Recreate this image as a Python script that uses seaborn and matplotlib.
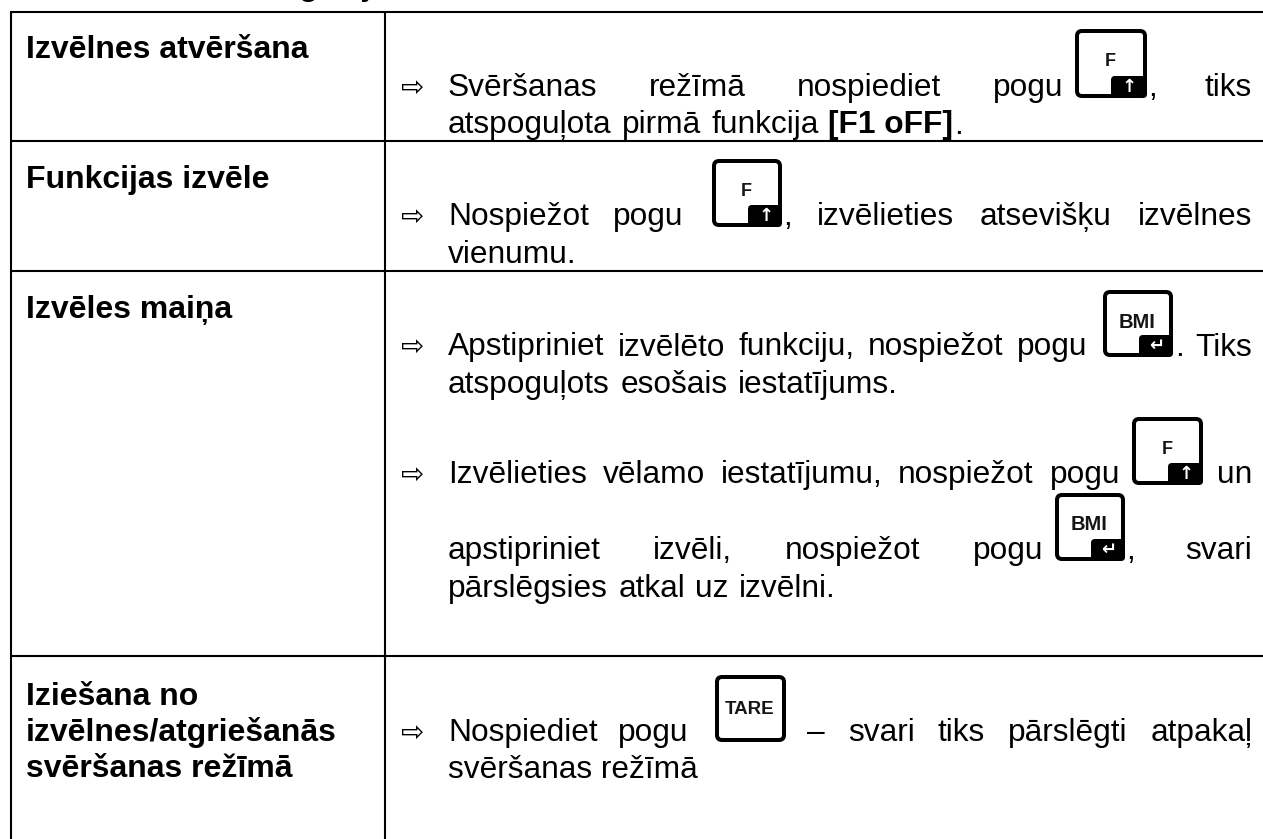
import matplotlib
matplotlib.use("Agg")
import matplotlib.pyplot as plt
from matplotlib.patches import FancyBboxPatch, Rectangle
import seaborn as sns

# ---------- content ----------
section_title = "Navigācija izvēlnē"
row_heads = [
    ["Izvēlnes atvēršana"],
    ["Funkcijas izvēle"],
    ["Izvēles maiņa"],
    ["Iziešana no", "izvēlnes/atgriešanās", "svēršanas režīmā"],
]
line_1a = "Svēršanas režīmā nospiediet pogu"
line_1b = "atspoguļota pirmā funkcija"
line_1c = "[F1 oFF]"
line_2a = "Nospiežot pogu"
line_2b = "izvēlieties atsevišķu izvēlnes"
line_2c = "vienumu."
line_3a = "Apstipriniet izvēlēto funkciju, nospiežot pogu"
line_3b = "atspoguļots esošais iestatījums."
line_4a = "Izvēlieties vēlamo iestatījumu, nospiežot pogu"
line_5a = "apstipriniet izvēli, nospiežot pogu"
line_5b = "pārslēgsies atkal uz izvēlni."
line_6a = "Nospiediet pogu"
line_6b = "svari tiks pārslēgti atpakaļ"
line_6c = "svēršanas režīmā"

# ---------- canvas in pixel units ----------
W, H = 1263, 839
sns.set_theme(style="white")
plt.rcParams["font.family"] = ["Liberation Sans", "DejaVu Sans"]
fig = plt.figure(figsize=(W / 100, H / 100), dpi=100, facecolor="white")
ax = fig.add_axes([0, 0, 1, 1])
ax.set_xlim(0, W)
ax.set_ylim(H, 0)
ax.axis("off")
sns.despine(ax=ax, left=True, bottom=True)
renderer = fig.canvas.get_renderer()

FS = 22.75
FS_HEAD = 23.0
TXT_L, TXT_R = 448, 1252


def put(x, y, s, weight="normal", ha="left", size=FS):
    return ax.text(x, y, s, fontsize=size, fontweight=weight, ha=ha, va="baseline",
                   color="black", clip_on=False)


def justify(s, x0, x1, y):
    """Spread the words of s so that they fill x0..x1."""
    words = s.split()
    arts = [put(x0, y, w) for w in words]
    widths = [a.get_window_extent(renderer).width for a in arts]
    gap = (x1 - x0 - sum(widths)) / max(len(words) - 1, 1)
    x = x0
    for a, w in zip(arts, widths):
        a.set_x(x)
        x += w + gap


def bullet(y):
    ax.text(400.5, y - 0.5, "\u21e8", fontsize=20, family="DejaVu Sans", ha="left",
            va="baseline", color="black")


def key(x0, x1, y0, y1, label, glyph=None, lsize=13):
    lw_px = 4
    pad = lw_px / 2
    ax.add_patch(FancyBboxPatch((x0 + pad + 5, y0 + pad + 5), x1 - x0 - 2 * pad - 10,
                                y1 - y0 - 2 * pad - 10, boxstyle="round,pad=5,rounding_size=5",
                                fc="white", ec="black", lw=lw_px * 0.72, zorder=3))
    ly = y0 + (35 if glyph is None else 32)
    ax.text((x0 + x1) / 2 - 0.5, ly, label, fontsize=lsize, fontweight="bold", ha="center",
            va="center", color="#151515", zorder=5)
    if glyph:
        ax.add_patch(FancyBboxPatch((x0 + 40, y1 - 18), x1 - x0 - 44, 14,
                                    boxstyle="round,pad=4,rounding_size=4",
                                    fc="black", ec="black", lw=0, zorder=4))
        ax.add_patch(Rectangle((x1 - 12, y1 - 22), 8, 18, fc="black", ec="black", lw=0, zorder=4))
        ax.text(x0 + 54, y1 - 11, glyph, fontsize=13, fontweight="bold", family="DejaVu Sans",
                ha="center", va="center", color="white", zorder=5)


# ---------- grid ----------
ax.hlines([12, 140.5, 270.5, 656], 10, W, color="black", lw=1.5)
ax.vlines([11, 385], 12, H, color="black", lw=1.5)

# ---------- clipped section title above the table ----------
put(232, -4.5, section_title, weight="bold")

# ---------- left column ----------
head_baselines = [[58], [188], [318], [705, 741, 777]]
for lines, ys in zip(row_heads, head_baselines):
    for s, y in zip(lines, ys):
        put(26, y, s, weight="bold", size=FS_HEAD)

# ---------- row 1 ----------
bullet(96)
justify(line_1a, TXT_L, 1063, 96)
key(1075, 1147, 29, 98, "F", "\u2191")
put(1148, 96, ",")
put(TXT_R, 96, "tiks", ha="right")
justify(line_1b, TXT_L, 819, 133.5)
put(828, 133.5, line_1c, weight="bold")
put(954, 133.5, ".")

# ---------- row 2 ----------
bullet(225)
justify(line_2a, TXT_L, 683, 225)
key(712, 782, 159, 227, "F", "\u2191")
put(783, 225, ",")
justify(line_2b, 817, TXT_R, 225)
put(TXT_L, 263, line_2c)

# ---------- row 3 ----------
bullet(355.5)
justify(line_3a, TXT_L, 1087, 355.5)
key(1103, 1173, 290, 357, "BMI", "\u21b5", lsize=14.5)
put(1175, 355.5, ".")
put(TXT_R, 355.5, "Tiks", ha="right")
justify(line_3b, TXT_L, 898, 393)

bullet(483)
justify(line_4a, TXT_L, 1120, 483)
key(1132, 1203, 417, 485, "F", "\u2191")
put(TXT_R, 483, "un", ha="right")

justify(line_5a, TXT_L, 1043, 559)
key(1055, 1125, 493, 561, "BMI", "\u21b5", lsize=14.5)
put(1126, 559, ",")
put(TXT_R, 559, "svari", ha="right")
justify(line_5b, TXT_L, 836, 597)

# ---------- row 4 ----------
bullet(741)
justify(line_6a, TXT_L, 688, 741)
key(715, 786, 675, 742, "TARE", lsize=13.5)
put(807, 741, "\u2013")
justify(line_6b, 848, 1253, 741)
put(TXT_L, 778, line_6c)

fig.savefig("out.png", dpi=100, facecolor="white")
